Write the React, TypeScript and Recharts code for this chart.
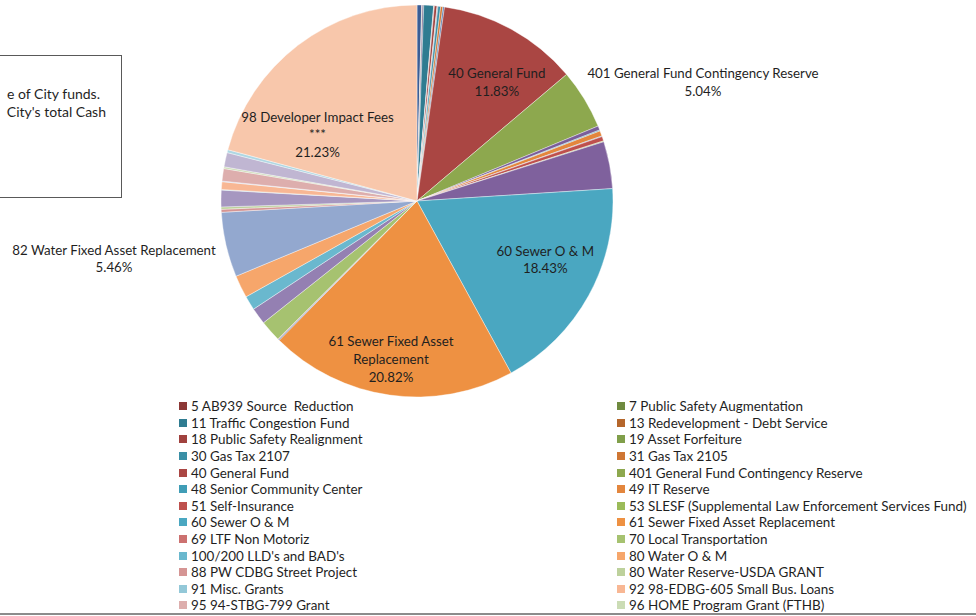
import { PieChart, Pie, Cell } from "recharts";

// slices in clockwise order from 12 o'clock; the legend's first column is cut off in the
// source, so those funds have no readable name
const fundNames = [
  "", "5 AB939 Source  Reduction", "7 Public Safety Augmentation",
  "", "11 Traffic Congestion Fund", "13 Redevelopment - Debt Service",
  "", "18 Public Safety Realignment", "19 Asset Forfeiture",
  "", "30 Gas Tax 2107", "31 Gas Tax 2105",
  "", "40 General Fund", "401 General Fund Contingency Reserve",
  "", "48 Senior Community Center", "49 IT Reserve",
  "", "51 Self-Insurance", "53 SLESF (Supplemental Law Enforcement Services Fund)",
  "", "60 Sewer O & M", "61 Sewer Fixed Asset Replacement",
  "", "69 LTF Non Motoriz", "70 Local Transportation",
  "", "100/200 LLD's and BAD's", "80 Water O & M",
  "82 Water Fixed Asset Replacement", "88 PW CDBG Street Project", "80 Water Reserve-USDA GRANT",
  "", "91 Misc. Grants", "92 98-EDBG-605 Small Bus. Loans",
  "", "95 94-STBG-799 Grant", "96 HOME Program Grant (FTHB)",
  "", "", "98 Developer Impact Fees",
];

const fundShares = [
  0.39, 0.03, 0.03,
  0.11, 0.83, 0.03,
  0.03, 0.22, 0.03,
  0.05, 0.22, 0.19,
  0.13, 11.83, 5.04,
  0.35, 0.08, 0.45,
  0.05, 0.38, 0.07,
  3.97, 18.43, 20.82,
  0.1, 0.05, 1.8,
  1.4, 1.2, 1.9,
  5.46, 0.25, 0.2,
  1.4, 0.05, 0.65,
  0.05, 1.05, 0.15,
  1.2, 0.25, 21.23,
];

const fundColors = [
  "#3b5d94", "#8c3836", "#6f8a3f",
  "#5e4a7a", "#2f7c91", "#b5662b",
  "#44699f", "#a0413e", "#809f4a",
  "#6e5690", "#3a8fa6", "#cf7633",
  "#4a75ad", "#aa4643", "#8da84e",
  "#7a5e9a", "#409db6", "#e3863d",
  "#4f81bd", "#be504d", "#9bbb59",
  "#7f619d", "#4aa7c1", "#ee9142",
  "#7595c9", "#cc7170", "#a6c270",
  "#9480b2", "#6ab8ce", "#f6a66b",
  "#93a8cf", "#d59594", "#bdd19c",
  "#a697c0", "#93c8d8", "#f8b794",
  "#b3c1df", "#ddaead", "#cbdcb5",
  "#c0b6d2", "#afd7e3", "#f8c7ab",
];

const legendLeft = [
  "5 AB939 Source  Reduction", "11 Traffic Congestion Fund", "18 Public Safety Realignment",
  "30 Gas Tax 2107", "40 General Fund", "48 Senior Community Center", "51 Self-Insurance",
  "60 Sewer O & M", "69 LTF Non Motoriz", "100/200 LLD's and BAD's",
  "88 PW CDBG Street Project", "91 Misc. Grants", "95 94-STBG-799 Grant",
];

const legendRight = [
  "7 Public Safety Augmentation", "13 Redevelopment - Debt Service", "19 Asset Forfeiture",
  "31 Gas Tax 2105", "401 General Fund Contingency Reserve", "49 IT Reserve",
  "53 SLESF (Supplemental Law Enforcement Services Fund)", "61 Sewer Fixed Asset Replacement",
  "70 Local Transportation", "80 Water O & M", "80 Water Reserve-USDA GRANT",
  "92 98-EDBG-605 Small Bus. Loans", "96 HOME Program Grant (FTHB)",
];

const sliceLabels: Record<string, string[]> = {
  "40 General Fund": ["40 General Fund", "11.83%"],
  "401 General Fund Contingency Reserve": ["401 General Fund Contingency Reserve", "5.04%"],
  "60 Sewer O & M": ["60 Sewer O & M", "18.43%"],
  "61 Sewer Fixed Asset Replacement": ["61 Sewer Fixed Asset", "Replacement", "20.82%"],
  "82 Water Fixed Asset Replacement": ["82 Water Fixed Asset Replacement", "5.46%"],
  "98 Developer Impact Fees": ["98 Developer Impact Fees", "***", "21.23%"],
};

// where Excel put each label: fraction of the radius, and a turn off the slice middle (deg)
const labelPlace: Record<string, { r: number; turn: number }> = {
  "40 General Fund": { r: 0.73, turn: 5 },
  "401 General Fund Contingency Reserve": { r: 1.58, turn: 8.8 },
  "60 Sewer O & M": { r: 0.72, turn: -4.2 },
  "61 Sewer Fixed Asset Replacement": { r: 0.82, turn: 1.3 },
  "82 Water Fixed Asset Replacement": { r: 1.574, turn: 2.1 },
  "98 Developer Impact Fees": { r: 0.61, turn: -18.9 },
};

const FONT = "Lato, 'Open Sans', sans-serif";

const pieData = fundNames.map((name, i) => ({ name, value: fundShares[i] }));

const colorOf = (name: string) => fundColors[fundNames.indexOf(name)];

function renderLabel(props: any) {
  const name = props.payload?.name ?? props.name;
  const lines = sliceLabels[name];
  if (!lines) return null;
  const place = labelPlace[name];
  const theta = ((90 - props.midAngle + place.turn) * Math.PI) / 180;
  const r = props.outerRadius * place.r;
  const x = props.cx + r * Math.sin(theta);
  const y = props.cy - r * Math.cos(theta);
  const lh = 17.7;
  const top = y - ((lines.length - 1) * lh) / 2 + 4.6;
  return (
    <text x={x} y={top} textAnchor="middle" fontSize={13.3} fontFamily={FONT} fill="#1f1f1f">
      {lines.map((line, i) => (
        <tspan key={i} x={x} y={top + i * lh}>
          {line}
        </tspan>
      ))}
    </text>
  );
}

function LegendColumn({ items, left }: { items: string[]; left: number }) {
  return (
    <>
      {items.map((item, i) => (
        <div
          key={item}
          style={{
            position: "absolute",
            left,
            top: 398 + i * 16.6,
            height: 16.6,
            display: "flex",
            alignItems: "center",
            whiteSpace: "pre",
            fontSize: 13.45,
            color: "#1f1f1f",
          }}
        >
          <span style={{ width: 8, height: 8, background: colorOf(item), marginRight: 4 }} />
          {item}
        </div>
      ))}
    </>
  );
}

export default function App() {
  return (
    <div
      style={{
        position: "absolute",
        left: 0,
        top: 0,
        width: 976,
        height: 616,
        overflow: "hidden",
        background: "#fff",
        fontFamily: FONT,
      }}
    >
      <div
        style={{
          position: "absolute",
          left: -20,
          top: 55,
          width: 140,
          height: 141,
          border: "1px solid #595959",
          fontSize: 14,
          color: "#1f1f1f",
        }}
      >
        <div style={{ position: "absolute", right: 21, top: 29, whiteSpace: "nowrap" }}>e of City funds.</div>
        <div style={{ position: "absolute", right: 15, top: 47, whiteSpace: "nowrap" }}>City's total Cash</div>
      </div>

      <div style={{ position: "absolute", left: 0, top: 0 }}>
        <PieChart width={976} height={400} margin={{ top: 0, right: 0, bottom: 0, left: 0 }}>
          <Pie
            data={pieData}
            dataKey="value"
            nameKey="name"
            cx={417}
            cy={201}
            outerRadius={196}
            startAngle={90}
            endAngle={-270}
            stroke="#ffffff"
            strokeWidth={0.4}
            labelLine={false}
            label={renderLabel}
            isAnimationActive={false}
          >
            {pieData.map((d, i) => (
              <Cell key={i} fill={fundColors[i]} />
            ))}
          </Pie>
        </PieChart>
      </div>

      <LegendColumn items={legendLeft} left={179} />
      <LegendColumn items={legendRight} left={617} />

      <div style={{ position: "absolute", left: 0, top: 613, width: 976, height: 2, background: "#8c8c8c" }} />
    </div>
  );
}
